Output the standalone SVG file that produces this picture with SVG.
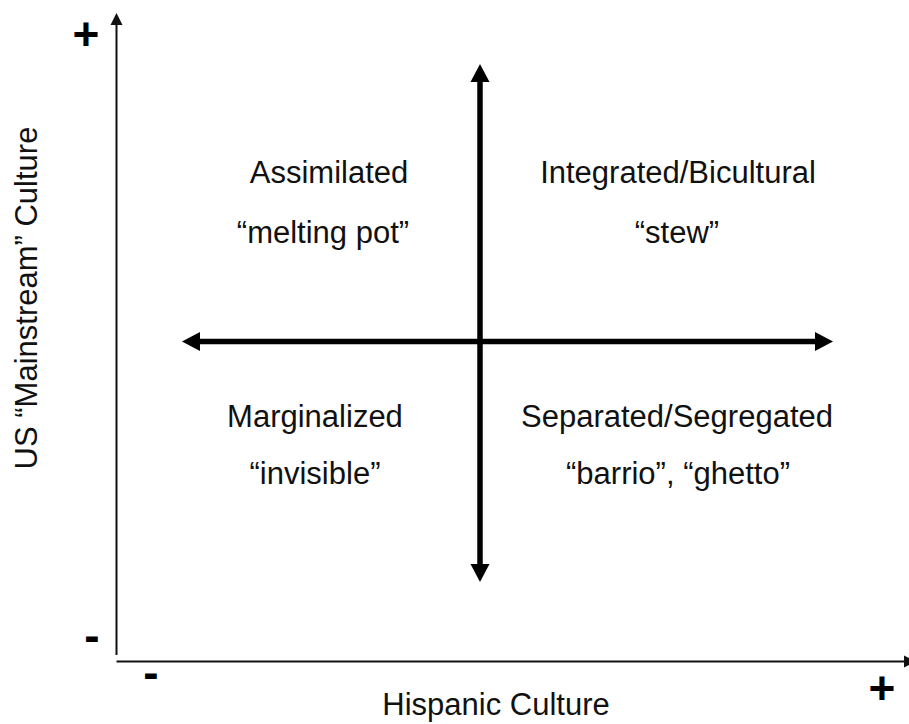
<svg xmlns="http://www.w3.org/2000/svg" width="909" height="724" viewBox="0 0 909 724">
<style>
.lbl{font-family:"Liberation Sans",Arial,sans-serif;font-size:31px;fill:#111;text-anchor:middle}
.sign{font-family:"Liberation Sans",Arial,sans-serif;font-size:46px;font-weight:bold;fill:#000;text-anchor:middle}
.axis{stroke:#111;stroke-width:2;fill:none}
.cross{stroke:#000;stroke-width:5.5;fill:none}
</style>
<defs>
<marker id="axHead" markerUnits="userSpaceOnUse" markerWidth="14" markerHeight="14" refX="1" refY="0" viewBox="0 -7 14 14" orient="auto" overflow="visible">
<path d="M0,-6 L12,0 L0,6 Z" fill="#111"/>
</marker>
<marker id="crHead" markerUnits="userSpaceOnUse" markerWidth="20" markerHeight="20" refX="1" refY="0" viewBox="0 -10 20 20" orient="auto-start-reverse" overflow="visible">
<path d="M0,-9.5 L18,0 L0,9.5 Z" fill="#000"/>
</marker>
</defs>
<g id="connectors">
<line id="y-axis" class="axis" x1="116.5" y1="655" x2="116.5" y2="24" marker-end="url(#axHead)"/>
<line id="x-axis" class="axis" x1="116.5" y1="661.5" x2="905" y2="661.5" marker-end="url(#axHead)"/>
<line id="cross-vertical" class="cross" x1="480" y1="81" x2="480" y2="565" marker-start="url(#crHead)" marker-end="url(#crHead)"/>
<line id="cross-horizontal" class="cross" x1="199" y1="341.5" x2="816" y2="341.5" marker-start="url(#crHead)" marker-end="url(#crHead)"/>
</g>
<g id="signs">
<text class="sign" x="86" y="50">+</text>
<text class="sign" x="92" y="651">-</text>
<text class="sign" x="151" y="688">-</text>
<text class="sign" x="882" y="704">+</text>
</g>
<g id="node-assimilated">
<text class="lbl" x="329" y="183">Assimilated</text>
<text class="lbl" x="323" y="243">“melting pot”</text>
</g>
<g id="node-integrated">
<text class="lbl" x="678" y="183">Integrated/Bicultural</text>
<text class="lbl" x="677" y="243">“stew”</text>
</g>
<g id="node-marginalized">
<text class="lbl" x="315" y="427">Marginalized</text>
<text class="lbl" x="315" y="484">“invisible”</text>
</g>
<g id="node-separated">
<text class="lbl" x="677" y="427">Separated/Segregated</text>
<text class="lbl" x="678" y="484">“barrio”, “ghetto”</text>
</g>
<g id="axis-labels">
<text class="lbl" x="496" y="715">Hispanic Culture</text>
<text class="lbl" transform="translate(37,298) rotate(-90)" x="0" y="0">US “Mainstream” Culture</text>
</g>
</svg>
